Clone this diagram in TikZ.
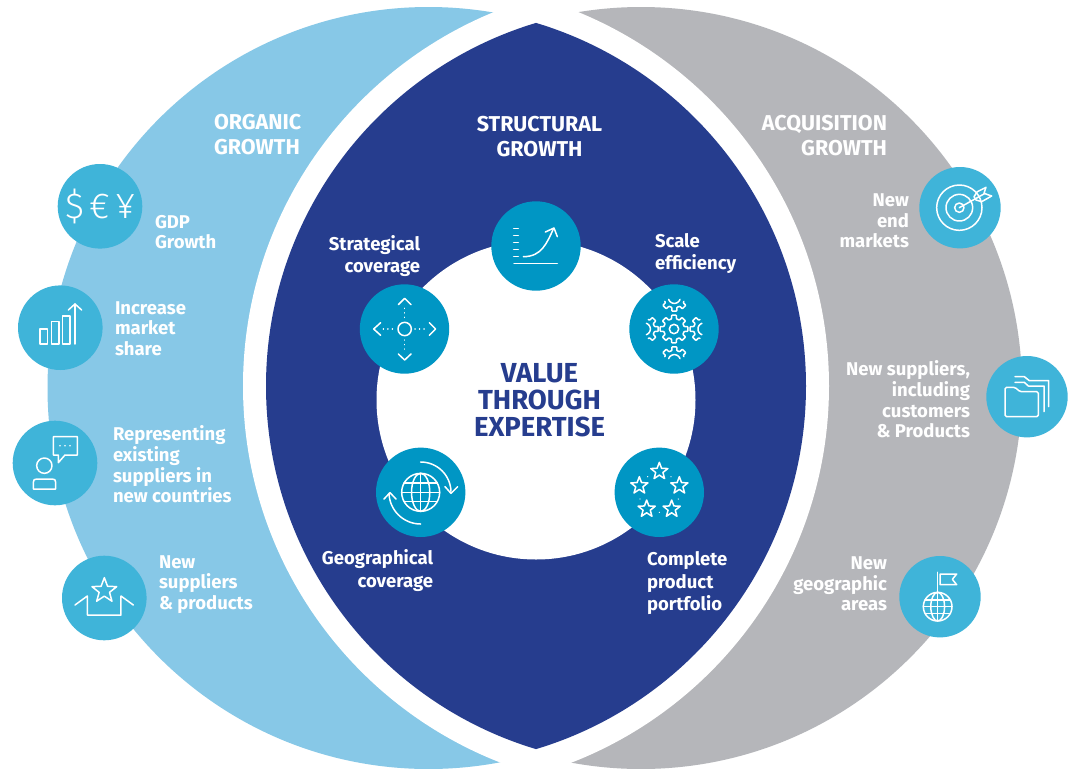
\documentclass[tikz,border=0pt]{standalone}
\usepackage{fontspec}
\setmainfont{Fira Sans}
\newfontfamily\thinsym{Fira Sans Light}
\tikzset{
 every node/.style={inner sep=0pt,outer sep=0pt},
 lab/.style={text=white,font=\fontsize{18.5}{20.6}\selectfont\bfseries},
 lableft/.style={lab,anchor=west,align=left},
 labright/.style={lab,anchor=east,align=right},
 ttl/.style={text=white,font=\fontsize{21.5}{25}\selectfont\bfseries},
 tealdot/.style={circle,fill=tealc,minimum size=89.4pt},
 leftdot/.style={circle,fill=midc,minimum size=84.6pt},
 rightdot/.style={circle,fill=midc,minimum size=81.4pt},
 ico/.style={draw=white,line width=1.5pt,line cap=round,line join=round},
}
\definecolor{lbc}{HTML}{87C8E7}
\definecolor{gyc}{HTML}{B5B6BA}
\definecolor{nvc}{HTML}{263D8E}
\definecolor{tealc}{HTML}{0096C4}
\definecolor{midc}{HTML}{3FB4D9}
\newenvironment{zf}[2]{\begin{scope}[shift={(#1,#2)},x=0.33333pt,y=-0.33333pt]}{\end{scope}}
\newcommand{\starp}[3]{\begin{scope}[shift={(#1,#2)}]
 \draw[ico] (-90:#3) -- (-54:0.42*#3) -- (-18:#3) -- (18:0.42*#3) -- (54:#3) -- (90:0.42*#3) -- (126:#3) -- (162:0.42*#3) -- (198:#3) -- (234:0.42*#3) -- cycle;
 \end{scope}}
\newcommand{\arcp}[5]{\draw[ico] plot[domain=#4:#5,samples=30] ({#1+#3*cos(\x)},{#2+#3*sin(\x)});}
\newcommand{\globep}[3]{\begin{scope}[shift={(#1,#2)}]
 \draw[ico] (0,0) circle[radius=#3];
 \draw[ico] (0,0) ellipse[x radius=0.48*#3,y radius=#3];
 \draw[ico] (0,-#3) -- (0,#3);
 \draw[ico] (-#3,0) -- (#3,0);
 \draw[ico] (-0.88*#3,-0.48*#3) -- (0.88*#3,-0.48*#3);
 \draw[ico] (-0.88*#3,0.48*#3) -- (0.88*#3,0.48*#3);
 \end{scope}}
\newcommand{\teeth}[7]{\begin{scope}[shift={(#1,#2)}]
 \draw[ico,rounded corners=0.6pt] (#3-22:#6) \foreach \t in {#3,#4,...,#5} { -- (\t-14:#6) -- (\t-10:#7) -- (\t+10:#7) -- (\t+14:#6) -- (\t+22:#6) };
 \end{scope}}
\begin{document}
\begin{tikzpicture}[x=1pt,y=-1pt]
\useasboundingbox (0,0) rectangle (1072,769);
\fill[white] (0,0) rectangle (1072,769);
\begin{scope}
 \clip (0,0) rectangle (536,769);
 \fill[lbc] (428.5,388) circle[radius=381];
 \fill[white] (647,386) circle[radius=404];
\end{scope}
\begin{scope}
 \clip (536,0) rectangle (1072,769);
 \fill[gyc] (641,388) circle[radius=381];
 \fill[white] (425,386) circle[radius=404];
\end{scope}
\begin{scope}
 \clip (645,386) circle[radius=379];
 \fill[nvc] (427,386) circle[radius=379];
\end{scope}
\node[circle,fill=white,minimum size=319pt] (hub) at (536,400) {};
\node[tealdot] (dtop) at (536,246) {};
\node[tealdot] (dstr) at (404.5,329) {};
\node[tealdot] (dsca) at (674,329) {};
\node[tealdot] (dgeo) at (420.7,492.3) {};
\node[tealdot] (dcom) at (659.3,492.3) {};
\node[leftdot] (dgdp) at (100,206.3) {};
\node[leftdot] (dinc) at (60.3,327.7) {};
\node[leftdot] (drep) at (55,463) {};
\node[leftdot] (dnew) at (104.3,598) {};
\node[rightdot] (dend) at (960,207.7) {};
\node[rightdot] (dsup) at (1027,396.7) {};
\node[rightdot] (dare) at (940,596.7) {};
\node[ttl,anchor=west,align=left] (torg) at (214,135) {ORGANIC\\GROWTH};
\node[ttl,align=center] (tstr) at (539.5,137) {STRUCTURAL\\GROWTH};
\node[ttl,anchor=east,align=right] (tacq) at (887,136) {ACQUISITION\\GROWTH};
\node[text=nvc,align=center,font=\fontsize{27.5}{26.8}\selectfont\bfseries] (tval) at (539.5,400) {VALUE\\THROUGH\\EXPERTISE};
\node[lableft] (l1) at (155,232) {GDP\\Growth};
\node[lableft] (l2) at (115,328.5) {Increase\\market\\share};
\node[lableft] (l3) at (113,464.5) {Representing\\existing\\suppliers in\\new countries};
\node[lableft] (l4) at (159,584.5) {New\\suppliers\\\& products};
\node[labright,font=\fontsize{18.5}{22}\selectfont\bfseries] (l5) at (420,256) {Strategical\\coverage};
\node[lableft,font=\fontsize{18.5}{22}\selectfont\bfseries] (l6) at (655,254) {Scale\\efficiency};
\node[labright,font=\fontsize{18.5}{23}\selectfont\bfseries] (l7) at (433,571) {Geographical\\coverage};
\node[lableft,font=\fontsize{18.5}{22.5}\selectfont\bfseries] (l8) at (647,583.5) {Complete\\product\\portfolio};
\node[labright] (l9) at (909,221) {New\\end\\markets};
\node[labright] (l10) at (970,399.5) {New suppliers,\\including\\customers\\\& Products};
\node[labright] (l11) at (887,584) {New\\geographic\\areas};
\node[text=white,font=\fontsize{36}{36}\selectfont\thinsym] (cur) at (100,206) {\$\,€\,¥};
\begin{zf}{0}{150}
 \draw[ico] (120,537) rectangle (143,582);
 \draw[ico] (154,515) rectangle (177,582);
 \draw[ico] (187,498) rectangle (210,582);
 \draw[ico] (225,582) -- (225,462);
 \draw[ico] (205,480) -- (225,462) -- (245,480);
\end{zf}
\begin{zf}{0}{400}
 \draw[ico] (133,197) circle[radius=23];
 \draw[ico] (100,267) -- (100,247) .. controls (100,240) and (103,237) .. (110,237) -- (157,237) .. controls (164,237) and (167,240) .. (167,247) -- (167,267) -- cycle;
 \draw[ico] (160,110) -- (232,110) -- (232,165) -- (195,165) -- (175,188) -- (175,165) -- (160,165) -- cycle;
 \fill[white] (180,137) circle[radius=2.5] (195,137) circle[radius=2.5] (210,137) circle[radius=2.5];
 \starp{313}{572}{39}
 \draw[ico] (225,615) -- (262,588) -- (262,645) -- (363,645) -- (363,588) -- (400,615);
\end{zf}
\begin{zf}{340}{190}
 \foreach \yy in {115,136,157,178,200} \draw[ico] (521,\yy) -- (535,\yy);
 \draw[ico] (522,221) -- (652,221);
 \draw[ico] (550,200) .. controls (605,200) and (620,160) .. (641,115);
 \draw[ico] (616,126) -- (642,114) -- (652,140);
 \draw[ico] (194,417) circle[radius=20];
 \draw[ico] (175,344) -- (194,325) -- (213,344);
 \draw[ico] (175,492) -- (194,510) -- (213,492);
 \draw[ico] (122,398) -- (101,417) -- (122,436);
 \draw[ico] (268,398) -- (287,417) -- (268,436);
 \draw[ico,dash pattern=on 0.1pt off 4.4pt] (194,355) -- (194,385) (194,450) -- (194,482) (130,417) -- (165,417) (225,417) -- (258,417);
 \draw[ico] (1002,417) circle[radius=14];
 \begin{scope}[shift={(1002,417)}]
 \draw[ico,rounded corners=0.6pt] (-22:31) \foreach \t in {0,45,...,315} { -- (\t-14:31) -- (\t-10:42) -- (\t+10:42) -- (\t+14:31) -- (\t+22:31) } -- cycle;
 \end{scope}
 \teeth{1003}{322}{45}{90}{135}{31}{42}
 \teeth{1003}{512}{225}{270}{315}{31}{42}
 \teeth{913}{417}{-45}{0}{45}{31}{42}
 \teeth{1092}{417}{135}{180}{225}{31}{42}
 \arcp{1003}{322}{18}{20}{160}
 \arcp{1003}{512}{18}{200}{340}
 \arcp{913}{417}{18}{-70}{70}
 \arcp{1092}{417}{18}{110}{250}
\end{zf}
\begin{zf}{360}{430}
 \globep{182}{187}{57}
 \arcp{182}{187}{91}{-90}{-2}
 \arcp{182}{187}{95}{90}{178}
 \draw[ico] (255,170) -- (273,190) -- (293,170);
 \draw[ico] (72,207) -- (90,188) -- (108,207);
 \starp{898}{124}{27}
 \starp{838}{167}{27}
 \starp{958}{167}{27}
 \starp{860}{237}{27}
 \starp{935}{237}{27}
 \fill[white] (863,140) circle[radius=2] (933,140) circle[radius=2] (840,207) circle[radius=2] (955,207) circle[radius=2] (898,247) circle[radius=2];
\end{zf}
\begin{zf}{890}{150}
 \draw[ico] (208,173) circle[radius=68];
 \draw[ico] (208,173) circle[radius=40];
 \draw[ico] (208,173) circle[radius=14];
 \draw[ico] (208,173) -- (262,143);
 \draw[ico] (252,140) -- (262,125) -- (288,112) -- (282,130) -- (305,138) -- (275,155) -- (258,150) -- cycle;
 \draw[ico] (262,143) -- (285,130);
 \draw[ico,rounded corners=1.5pt] (345,712) -- (375,712) -- (390,725) -- (445,725) -- (445,800) -- (345,800) -- cycle;
 \draw[ico] (375,697) -- (403,697) -- (415,708) -- (462,708) -- (462,785);
 \draw[ico] (375,680) -- (403,680) -- (418,692) -- (476,692) -- (476,770);
\end{zf}
\begin{zf}{880}{540}
 \globep{173}{200}{43}
 \draw[ico] (173,97) -- (173,157);
 \draw[ico] (180,102) -- (230,102) -- (217,118) -- (230,134) -- (180,134) -- cycle;
\end{zf}
\end{tikzpicture}
\end{document}
